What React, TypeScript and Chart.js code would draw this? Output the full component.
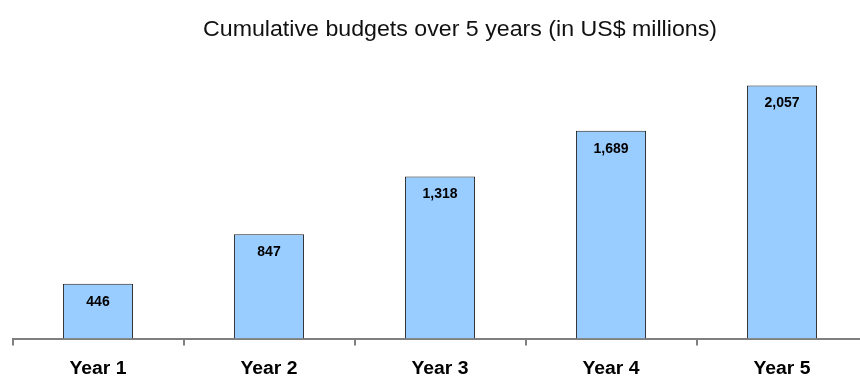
import React, { useEffect, useRef } from "react";
import { Chart, registerables } from "chart.js";

Chart.register(...registerables);

const TITLE = "Cumulative budgets over 5 years (in US$ millions)";
const CATEGORIES = ["Year 1", "Year 2", "Year 3", "Year 4", "Year 5"];
const BUDGETS = [446, 847, 1318, 1689, 2057];
const Y_MAX = 2200;

const FONT = "Arial, 'Liberation Sans', Helvetica, sans-serif";

const TITLE_CENTER_X = 460;
const TITLE_BASELINE = 35.5;
const TITLE_WIDTH = 514;
const TICK_REF_WIDTH = 57; // width of "Year 1" in the reference
const TICK_BASELINE = 374;

const titlePlugin = {
  id: "customTitle",
  afterDraw(chart: any) {
    const ctx = chart.ctx;
    ctx.save();
    ctx.font = `21.5px ${FONT}`;
    ctx.fillStyle = "#111";
    ctx.textAlign = "center";
    ctx.textBaseline = "alphabetic";
    const sx = TITLE_WIDTH / ctx.measureText(TITLE).width;
    ctx.translate(TITLE_CENTER_X, TITLE_BASELINE);
    ctx.scale(sx, 1);
    ctx.fillText(TITLE, 0, 0);
    ctx.restore();
  },
};

const tickLabelPlugin = {
  id: "tickLabels",
  afterDraw(chart: any) {
    const ctx = chart.ctx;
    const xScale = chart.scales.x;
    ctx.save();
    ctx.font = `bold 17.5px ${FONT}`;
    ctx.fillStyle = "#000";
    ctx.textAlign = "center";
    ctx.textBaseline = "alphabetic";
    const sx = TICK_REF_WIDTH / ctx.measureText(CATEGORIES[0]).width;
    CATEGORIES.forEach((label, i) => {
      ctx.save();
      ctx.translate(xScale.getPixelForTick(i), TICK_BASELINE);
      ctx.scale(sx, 1);
      ctx.fillText(label, 0, 0);
      ctx.restore();
    });
    ctx.restore();
  },
};

const valueLabelPlugin = {
  id: "valueLabels",
  afterDatasetsDraw(chart: any) {
    const ctx = chart.ctx;
    const meta = chart.getDatasetMeta(0);
    const data = chart.data.datasets[0].data as number[];
    ctx.save();
    ctx.font = `bold 14px ${FONT}`;
    ctx.fillStyle = "#000";
    ctx.textAlign = "center";
    ctx.textBaseline = "middle";
    meta.data.forEach((bar: any, i: number) => {
      ctx.fillText(data[i].toLocaleString("en-US"), bar.x, bar.y + 18);
    });
    ctx.restore();
  },
};

export default function App() {
  const ref = useRef<HTMLCanvasElement | null>(null);

  useEffect(() => {
    if (!ref.current) return;
    const chart = new Chart(ref.current, {
      type: "bar",
      data: {
        labels: CATEGORIES,
        datasets: [
          {
            data: BUDGETS,
            backgroundColor: "#99CCFF",
            borderColor: "#222",
            borderWidth: 1,
            barPercentage: 0.41,
            categoryPercentage: 1,
          },
        ],
      },
      options: {
        animation: false,
        responsive: false,
        maintainAspectRatio: false,
        layout: { padding: { left: 12.5, right: 0.5, top: 68, bottom: 0 } },
        plugins: {
          legend: { display: false },
          title: { display: false },
          tooltip: { enabled: false },
        },
        scales: {
          y: { display: false, min: 0, max: Y_MAX },
          x: {
            offset: true,
            border: { display: true, color: "#7f7f7f", width: 2 },
            grid: {
              display: true,
              offset: true,
              drawOnChartArea: false,
              drawTicks: true,
              tickLength: 7,
              color: "#7f7f7f",
              lineWidth: 2,
            },
            ticks: { display: false },
            afterFit(scale: any) {
              scale.height = 37.5;
            },
          },
        },
      },
      plugins: [titlePlugin, tickLabelPlugin, valueLabelPlugin],
    });
    return () => chart.destroy();
  }, []);

  return (
    <div
      style={{
        position: "fixed",
        left: 0,
        top: 0,
        width: 860,
        height: 376,
        overflow: "hidden",
        background: "#fff",
      }}
    >
      <canvas ref={ref} width={868} height={376} style={{ display: "block", width: 868, height: 376 }} />
    </div>
  );
}
